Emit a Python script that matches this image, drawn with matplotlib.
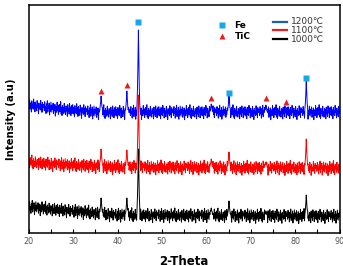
import numpy as np
import matplotlib
matplotlib.use('Agg')
import matplotlib.pyplot as plt

plt.rcParams['font.family'] = ['DejaVu Sans', 'Noto Sans CJK KR']

# baseline anchors (2-theta, intensity) per sample
base_x = [20, 25, 30, 35, 40, 90]
base_1200 = [128, 125, 123, 121, 121, 121]
base_1100 = [71, 69, 68, 67, 66, 65]
base_1000 = [26, 24, 22, 20, 18, 17]

# peak positions and peak top intensity per sample
peak_pos = [36.3, 42.1, 44.7, 61.1, 65.1, 73.4, 82.5]
top_1200 = [137, 142, 203, 129, 137, 128, 152]
top_1100 = [84, 83, 138, 74, 81, 71, 94]
top_1000 = [35, 35, 84, 25, 32, 22, 38]

# hand-typed noise pattern (intensity units)
noise = [1.5, -2.0, 3.2, -0.8, 0.4, -3.6, 2.1, -1.2, 4.0, -2.7, 0.9, -0.3, 2.8, -4.2, 1.1,
         -1.9, 3.5, 0.2, -2.4, 1.7, -0.6, 3.0, -3.1, 0.8, -1.4, 2.4, -4.5, 1.3, 0.0, -2.2,
         3.8, -1.0, 1.9, -3.3, 0.6, 2.6, -1.7, -0.2, 4.3, -2.9, 1.0, -3.8, 2.2, -0.5, 0.7,
         -2.5, 3.4, -1.5, 0.3, -3.0, 2.0, -0.9, 1.6, -4.0, 2.9, -1.1, 0.5, -2.6, 3.6, -0.4,
         1.2, -3.4, 2.5, -1.8, 0.1, 3.1, -2.3, 1.4, -0.7, -3.9, 2.7, -1.3, 0.8, -2.1, 3.9,
         -0.1, 1.8, -3.5, 2.3, -1.6, 0.6, -2.8, 3.3, -0.6, 1.0, -4.4, 2.0, -1.0, 0.2, -2.0,
         3.7, -1.4, 1.5, -3.2, 2.6, -0.3, 0.9]
noise_scale = 1.7

# phase markers
fe_x = [44.7, 65.1, 82.4]
fe_y = [211, 140, 155]
tic_x = [36.3, 42.1, 61.1, 73.4, 77.9]
tic_y = [142, 148, 135, 135, 131]

labels = ['1200\u2103', '1100\u2103', '1000\u2103']
colors = ['#0000ff', '#ff0000', '#000000']
legend_colors = ['#1a5fb4', '#ee1c1c', '#000000']

x = np.round(np.arange(20, 90.001, 0.1), 1)
profile = [0.1, 0.3, 0.6, 1.0, 0.6, 0.3, 0.1]


def pattern(base, tops, shift):
    b = np.interp(x, base_x, base)
    n = np.array([noise[(i + shift) % len(noise)] for i in range(len(x))]) * noise_scale
    y = b + n
    for p, t in zip(peak_pos, tops):
        k = int(np.argmin(np.abs(x - p)))
        h = t - np.interp(p, base_x, base)
        for j, f in zip(range(-3, 4), profile):
            y[k + j] = max(y[k + j], np.interp(x[k + j], base_x, base) + h * f)
    return y


fig = plt.figure(figsize=(3.43, 2.66), dpi=100)
ax = fig.add_axes([0.0837, 0.124, 0.9063, 0.857])

ax.plot(x, pattern(base_1000, top_1000, 0), color=colors[2], lw=0.7)
ax.plot(x, pattern(base_1100, top_1100, 31), color=colors[1], lw=0.7)
ax.plot(x, pattern(base_1200, top_1200, 63), color=colors[0], lw=0.7)

ax.plot(fe_x, fe_y, 's', color='#19a8e6', ms=5, mec='none')
ax.plot(tic_x, tic_y, '^', color='#e41e1e', ms=4.5, mec='none')

# legend drawn in axes coordinates
ax.plot([0.621], [0.912], 's', color='#19a8e6', ms=5, mec='none', transform=ax.transAxes)
ax.plot([0.621], [0.864], '^', color='#e41e1e', ms=4.5, mec='none', transform=ax.transAxes)
ax.text(0.662, 0.912, 'Fe', fontsize=6.5, fontweight='bold', va='center', transform=ax.transAxes)
ax.text(0.662, 0.864, 'TiC', fontsize=6.5, fontweight='bold', va='center', transform=ax.transAxes)
for i, (lab, c) in enumerate(zip(labels, legend_colors)):
    yy = 0.927 - i * 0.038
    ax.plot([0.787, 0.832], [yy, yy], color=c, lw=1.6, transform=ax.transAxes)
    ax.text(0.845, yy, lab, fontsize=6.5, color='#333333', va='center', transform=ax.transAxes)

ax.set_xlim(20, 90)
ax.set_ylim(0, 228)
ax.set_xticks(np.arange(20, 91, 10))
ax.set_xticks(np.arange(25, 90, 10), minor=True)
ax.set_yticks([])
ax.tick_params(axis='x', which='both', direction='in', length=3, width=0.8,
               labelsize=5.8, labelcolor='#555555', pad=3)
for s in ax.spines.values():
    s.set_linewidth(1.1)

ax.set_xlabel('2-Theta', fontsize=8.5, fontweight='bold', labelpad=6)
ax.set_ylabel('Intensity (a.u)', fontsize=7.3, fontweight='bold', labelpad=9)

fig.savefig('out.png', dpi=100)
